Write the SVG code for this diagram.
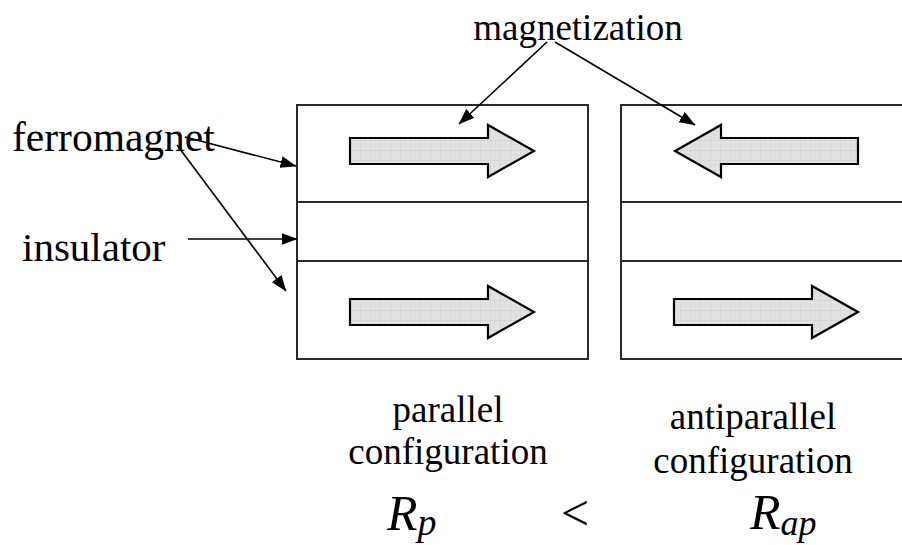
<svg xmlns="http://www.w3.org/2000/svg" width="902" height="545" viewBox="0 0 902 545">
<style>
.layer{fill:#fff;stroke:#2a2a2a;stroke-width:2}
.blk{fill:url(#grid);stroke:#000;stroke-width:2.2;stroke-linejoin:miter}
.ptr{stroke:#000;stroke-width:1.6;fill:none;marker-end:url(#ah)}
text{font-family:'Liberation Serif','Times New Roman','DejaVu Serif',serif;fill:#000}
.it{font-style:italic}
</style>
<defs>
<pattern id="grid" width="10" height="10" patternUnits="userSpaceOnUse">
<rect width="10" height="10" fill="#e2e2e2"/>
<path d="M5 0V10M0 5H10" stroke="#d8d8d8" stroke-width="0.6"/>
<path d="M0 0V10M0 0H10" stroke="#c6c6c6" stroke-width="0.8"/>
</pattern>
<marker id="ah" markerWidth="16" markerHeight="12" refX="15.5" refY="6" orient="auto" markerUnits="userSpaceOnUse" viewBox="0 0 16 12">
<path d="M0 0L16 6L0 12z" fill="#000"/>
</marker>
</defs>
<rect width="902" height="545" fill="#fff"/>

<g id="stack-parallel">
<rect class="layer" x="297" y="105" width="291" height="97"/>
<rect class="layer" x="297" y="202" width="291" height="59"/>
<rect class="layer" x="297" y="261" width="291" height="98"/>
</g>
<g id="stack-antiparallel">
<rect class="layer" x="621" y="105" width="290" height="97"/>
<rect class="layer" x="621" y="202" width="290" height="59"/>
<rect class="layer" x="621" y="261" width="290" height="98"/>
</g>

<g id="mag-p-top"><path class="blk" d="M350 138H488V125L534 151L488 177V164H350Z"/></g>
<g id="mag-p-bottom"><path class="blk" d="M350 299H488V286L534 312L488 338V325H350Z"/></g>
<g id="mag-ap-top"><path class="blk" d="M858 138H721V125L675 151L721 177V164H858Z"/></g>
<g id="mag-ap-bottom"><path class="blk" d="M674 299H812V286L858 312L812 338V325H674Z"/></g>

<g id="connectors">
<line class="ptr" x1="547" y1="42" x2="459" y2="124"/>
<line class="ptr" x1="555" y1="42" x2="695" y2="125"/>
<line class="ptr" x1="185" y1="137" x2="296" y2="166"/>
<line class="ptr" x1="177" y1="145" x2="286" y2="291"/>
<line class="ptr" x1="188" y1="239" x2="297" y2="239"/>
</g>

<g id="labels" font-family="Liberation Serif, Times New Roman, serif">
<text x="578" y="40" font-size="37" text-anchor="middle">magnetization</text>
<text x="12" y="151" font-size="41.5">ferromagnet</text>
<text x="22" y="261" font-size="41">insulator</text>
<text x="448" y="422" font-size="37" text-anchor="middle">parallel</text>
<text x="448" y="464" font-size="37" text-anchor="middle">configuration</text>
<text x="753" y="429" font-size="37" text-anchor="middle">antiparallel</text>
<text x="753" y="473" font-size="37" text-anchor="middle">configuration</text>
<text x="387" y="530" font-size="50"><tspan class="it">R</tspan><tspan class="it" font-size="38" dy="5">p</tspan></text>
<text x="561" y="530" font-size="50">&lt;</text>
<text x="750" y="529" font-size="50"><tspan class="it">R</tspan><tspan class="it" font-size="36" dy="6">ap</tspan></text>
</g>
</svg>
